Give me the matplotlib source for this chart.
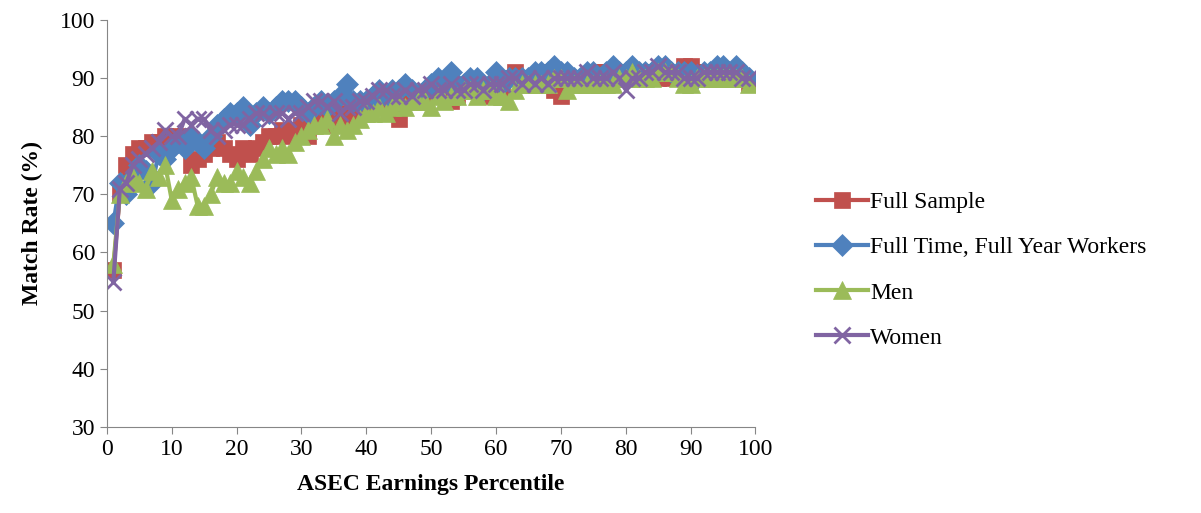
import matplotlib.pyplot as plt

# Процентили заработков ASEC
pct = list(range(1, 100))

full_sample = [57, 70, 75, 77, 78, 78, 79, 79, 80, 80, 79, 80, 75, 76, 77, 78, 79, 78, 77, 76,
               78, 77, 78, 79, 80, 80, 81, 80, 81, 82, 80, 82, 83, 82, 83, 83, 84, 83, 84, 85,
               85, 86, 85, 86, 83, 86, 86, 87, 87, 88, 87, 87, 86, 87, 88, 88, 88, 88, 87, 88,
               88, 90, 91, 90, 90, 90, 90, 91, 88, 87, 89, 90, 90, 90, 91, 91, 91, 90, 91, 90,
               90, 90, 91, 91, 90, 91, 90, 90, 92, 92, 91, 91, 90, 90, 90, 91, 90, 90, 89]
full_time = [65, 72, 70, 73, 75, 74, 72, 77, 76, 78, 79, 78, 80, 79, 78, 80, 82, 83, 84, 84,
             85, 82, 84, 85, 84, 85, 86, 86, 86, 85, 84, 85, 86, 85, 86, 87, 89, 86, 86, 86,
             87, 88, 87, 88, 88, 89, 88, 87, 88, 89, 90, 89, 91, 89, 89, 90, 90, 88, 89, 91,
             89, 90, 90, 90, 90, 91, 91, 91, 92, 91, 91, 90, 90, 91, 91, 90, 91, 92, 91, 91,
             92, 91, 91, 91, 92, 92, 91, 91, 91, 91, 90, 91, 91, 92, 92, 91, 92, 91, 90]
men = [58, 70, 72, 73, 72, 71, 74, 73, 75, 69, 71, 72, 73, 68, 68, 70, 73, 72, 72, 74,
       73, 72, 74, 76, 78, 77, 78, 77, 79, 80, 81, 82, 82, 83, 80, 82, 81, 82, 83, 84,
       84, 85, 84, 85, 86, 85, 86, 86, 86, 85, 87, 86, 87, 87, 88, 88, 87, 88, 88, 87,
       87, 86, 88, 89, 89, 89, 89, 89, 90, 90, 88, 89, 89, 89, 89, 89, 89, 89, 90, 90,
       91, 90, 90, 90, 91, 91, 91, 90, 89, 89, 90, 90, 90, 90, 90, 90, 90, 90, 89]
women = [55, 71, 72, 75, 76, 77, 78, 79, 81, 80, 80, 83, 82, 83, 83, 81, 80, 81, 82, 82,
         82, 83, 84, 84, 83, 84, 84, 83, 84, 84, 85, 86, 86, 85, 86, 84, 85, 85, 86, 86,
         87, 88, 88, 87, 87, 88, 87, 88, 88, 89, 88, 88, 89, 88, 88, 89, 89, 88, 89, 89,
         89, 90, 90, 89, 90, 89, 90, 89, 90, 90, 90, 90, 90, 91, 90, 90, 90, 91, 90, 88,
         90, 90, 91, 91, 92, 91, 91, 91, 90, 90, 90, 91, 91, 91, 91, 91, 91, 90, 90]

series = [
    ("Full Sample", full_sample, "#c0504d", "s", 12),
    ("Full Time, Full Year Workers", full_time, "#4f81bd", "D", 11),
    ("Men", men, "#9bbb59", "^", 13),
    ("Women", women, "#8064a2", "x", 12),
]

plt.rcParams['font.family'] = ['Liberation Serif', 'DejaVu Serif']
fig = plt.figure(figsize=(12.01, 5.13), dpi=100)
ax = fig.add_axes([0.089, 0.168, 0.54, 0.793])

for name, vals, col, mk, ms in series:
    ax.plot(pct, vals, color=col, lw=3, marker=mk, markersize=ms,
            markeredgewidth=2 if mk == "x" else 0.5, markeredgecolor=col, label=name)

ax.set_xlim(0, 100)
ax.set_ylim(30, 100)
ax.set_xticks(range(0, 101, 10))
ax.set_yticks(range(30, 101, 10))
ax.tick_params(labelsize=17, direction='out', length=5, color='#868686')
for side in ['top', 'right']:
    ax.spines[side].set_visible(False)
for side in ['left', 'bottom']:
    ax.spines[side].set_color('#868686')
ax.set_xlabel("ASEC Earnings Percentile", fontsize=17, fontweight='bold', labelpad=10)
ax.set_ylabel("Match Rate (%)", fontsize=17, fontweight='bold', labelpad=12)

ax.legend(loc='center left', bbox_to_anchor=(1.06, 0.385), frameon=False,
          fontsize=17, handlelength=2.2, handletextpad=0.1, labelspacing=1.0)

fig.savefig("out.png", dpi=100)
